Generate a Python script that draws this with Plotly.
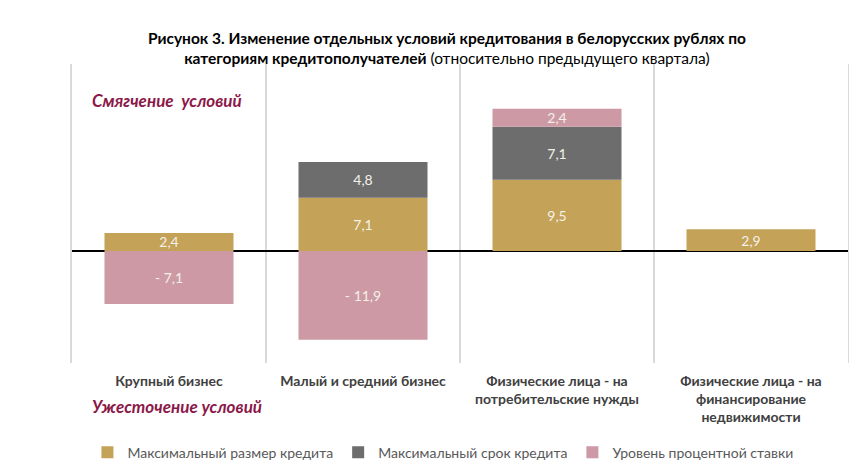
import plotly.graph_objects as go

categories = ["Крупный бизнес", "Малый и средний бизнес",
              "Физические лица - на<br>потребительские нужды",
              "Физические лица - на<br>финансирование<br>недвижимости"]
max_size = [2.4, 7.1, 9.5, 2.9]
max_term = [None, 4.8, 7.1, None]
rate_level = [-7.1, -11.9, 2.4, None]
series_names = ["Максимальный размер кредита", "Максимальный срок кредита", "Уровень процентной ставки"]
colors = ["#C4A257", "#6D6D6D", "#CC99A4"]

FONT = "Lato, Open Sans, sans-serif"

def fmt(v):
    if v is None:
        return ""
    s = f"{abs(v):.1f}".replace(".", ",")
    return ("- " + s) if v < 0 else s

xs = list(range(len(categories)))
fig = go.Figure()
for name, vals, col in zip(series_names, [max_size, max_term, rate_level], colors):
    fig.add_trace(go.Bar(
        x=xs, y=vals, name=name, marker=dict(color=col, line=dict(width=0)),
        text=[fmt(v) for v in vals], textposition="inside", insidetextanchor="middle",
        textfont=dict(color="#F4F1EA", size=14, family=FONT), width=0.665,
        textangle=0, constraintext="none", cliponaxis=False,
    ))

fig.update_layout(
    barmode="relative",
    width=849, height=465,
    margin=dict(l=64, r=9, t=56, b=110, autoexpand=False),
    paper_bgcolor="white", plot_bgcolor="white",
    font=dict(family=FONT, color="#404040"),
    uniformtext=dict(minsize=14, mode="show"),
    showlegend=True,
    legend=dict(orientation="h", x=0.478, xanchor="center", y=-0.30, yanchor="middle",
                font=dict(size=14, color="#595959", family=FONT), itemwidth=30,
                traceorder="normal"),
    title=dict(text="<b>Рисунок 3. Изменение отдельных условий кредитования в белорусских рублях по<br>"
                    "категориям кредитополучателей</b> (относительно предыдущего квартала)",
               x=0.517, xanchor="center", y=0.922, yanchor="middle",
               font=dict(size=15.5, color="#000000", family=FONT)),
    xaxis=dict(range=[-0.5, 3.5], tickvals=xs, ticktext=["<b>" + c.replace("<br>", "</b><br><b>") + "</b>" for c in categories],
               showgrid=False, zeroline=False, showline=False, ticks="", automargin=False,
               tickfont=dict(size=14, color="#404040", family=FONT),
               minor=dict(tickvals=[-0.5, 0.5, 1.5, 2.5, 3.5], showgrid=True, gridcolor="#D9D9D9", gridwidth=1.5, ticks=""),
               ticklabelstandoff=8),
    yaxis=dict(range=[-15, 25], showgrid=False, showticklabels=False, ticks="", automargin=False,
               zeroline=True, zerolinecolor="#000000", zerolinewidth=2,
               showline=True, mirror=True, linecolor="#D9D9D9", linewidth=1.5),
    annotations=[
        dict(text="<b><i>Смягчение  условий</i></b>", xref="paper", yref="paper",
             x=0.023, y=0.878, xanchor="left", yanchor="middle", showarrow=False,
             font=dict(size=17, color="#8B1848", family=FONT)),
        dict(text="<b><i>Ужесточение условий</i></b>", xref="paper", yref="paper",
             x=0.023, y=-0.147, xanchor="left", yanchor="middle", showarrow=False,
             font=dict(size=17, color="#8B1848", family=FONT)),
    ],
)
fig.write_html("out.html")
